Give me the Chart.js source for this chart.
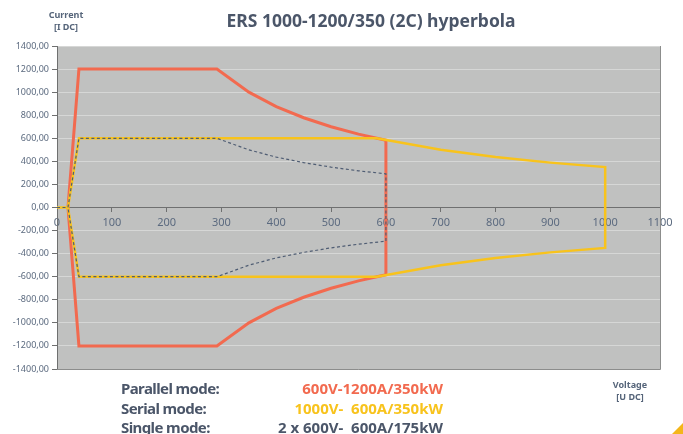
<!DOCTYPE html>
<html>
<head>
<meta charset="utf-8">
<script src="https://cdn.jsdelivr.net/npm/chart.js@4/dist/chart.umd.min.js"></script>
<style>
  html, body { margin: 0; padding: 0; background: #fff; }
  #wrap { position: relative; width: 683px; height: 434px; overflow: hidden; font-family: 'Noto Sans', sans-serif; color: #4b5669; }
  canvas { position: absolute; left: 0; top: 0; }
  .t { position: absolute; white-space: pre; }
  .small { font-size: 9px; font-weight: bold; text-align: center; line-height: 12px; color: #56657a; }
  .mode { font-size: 15px; font-weight: bold; line-height: 19.5px; }
  .corner { position: absolute; right: 0; bottom: 0; width: 0; height: 0;
            border-left: 11px solid transparent; border-bottom: 11px solid #f4b61a; }
</style>
</head>
<body>
<div id="wrap">
  <canvas id="chart" width="683" height="434"></canvas>
  <div class="t small" style="left:46px; top:9px; width:40px;">Current<br>[I DC]</div>
  <div class="t" style="left:0; top:8px; width:742px; text-align:center; font-size:17.5px; font-weight:bold; color:#4b5669;">ERS 1000-1200/350 (2C) hyperbola</div>
  <div class="t small" style="left:605px; top:379px; width:50px;">Voltage<br>[U DC]</div>
  <div class="t mode" style="left:121px; top:379px; letter-spacing:-0.6px;">Parallel mode:<br>Serial mode:<br>Single mode:</div>
  <div class="t mode" style="right:240px; top:379px; text-align:right;"><span style="color:#f26a4f">600V-1200A/350kW</span><br><span style="color:#f8c31c">1000V-  600A/350kW</span><br><span>2 x 600V-  600A/175kW</span></div>
  <div class="corner"></div>
</div>
<script>
// values (Voltage V, Current A)
const parallelV = [20, 40, 291.7, 350, 400, 450, 500, 550, 600, 600, 550, 500, 450, 400, 350, 291.7, 40, 20]
const parallelI = [0, 1200, 1200, 1000, 875, 778, 700, 636, 583, -583, -636, -700, -778, -875, -1000, -1200, -1200, 0]

const serialV = [0, 20, 40, 583, 700, 800, 900, 1000, 1000, 900, 800, 700, 583, 40, 20]
const serialI = [0, 0, 600, 600, 500, 437, 389, 350, -350, -389, -437, -500, -600, -600, 0]

const singleV = [0, 20, 40, 291.7, 350, 400, 450, 500, 550, 600, 600, 550, 500, 450, 400, 350, 291.7, 40, 20]
const singleI = [0, 0, 600, 600, 500, 437, 389, 350, 318, 292, -292, -318, -350, -389, -437, -500, -600, -600, 0]

const xTicks = [0, 100, 200, 300, 400, 500, 600, 700, 800, 900, 1000, 1100]
const yTicks = [-1400, -1200, -1000, -800, -600, -400, -200, 0, 200, 400, 600, 800, 1000, 1200, 1400]

function points(xs, ys) {
    return xs.map((x, i) => ({x: x, y: ys[i]}))
}

const plotBg = {
    id: 'plotBg',
    beforeDraw(chart) {
        const {ctx, chartArea: a} = chart
        ctx.save()
        ctx.fillStyle = '#c0c1c0'
        ctx.fillRect(a.left, a.top, a.right - a.left, a.bottom - a.top)
        ctx.restore()
    },
    afterDatasetsDraw(chart) {
        const {ctx, chartArea: a} = chart
        ctx.save()
        ctx.strokeStyle = '#8c8d8c'
        ctx.lineWidth = 1
        ctx.beginPath()
        ctx.moveTo(a.right + 0.5, a.top)
        ctx.lineTo(a.right + 0.5, a.bottom + 0.5)
        ctx.lineTo(a.left, a.bottom + 0.5)
        ctx.stroke()
        ctx.restore()
    }
}

const ctx = document.getElementById('chart').getContext('2d')
const myChart = new Chart(ctx, {
    type: 'scatter',
    data: {
        datasets: [
            {
                label: 'Parallel mode',
                data: points(parallelV, parallelI),
                showLine: true,
                borderColor: '#f26a4f',
                borderWidth: 3,
                pointRadius: 0,
                order: 3
            },
            {
                label: 'Serial mode',
                data: points(serialV, serialI),
                showLine: true,
                borderColor: '#f8c31c',
                borderWidth: 2.5,
                pointRadius: 0,
                order: 2
            },
            {
                label: 'Single mode',
                data: points(singleV, singleI),
                showLine: true,
                borderColor: '#4f5d73',
                borderWidth: 1.2,
                borderDash: [3, 2.5],
                pointRadius: 0,
                order: 1
            }
        ]
    },
    options: {
        responsive: false,
        animation: false,
        layout: { padding: { left: 0, top: 46, right: 23, bottom: 65 } },
        plugins: { legend: { display: false }, tooltip: { enabled: false } },
        scales: {
            x: {
                type: 'linear',
                position: { y: 0 },
                min: 0,
                max: 1100,
                afterBuildTicks: axis => { axis.ticks = xTicks.map(v => ({value: v})) },
                ticks: {
                    color: '#5b6a7f',
                    font: { family: 'Noto Sans', size: 11 },
                    padding: 5,
                    callback: v => String(v)
                },
                grid: { color: 'rgba(0,0,0,0)', tickColor: '#6f7070', tickLength: 4, drawOnChartArea: false },
                border: { color: '#6f7070', width: 1 }
            },
            y: {
                type: 'linear',
                min: -1400,
                max: 1400,
                afterBuildTicks: axis => { axis.ticks = yTicks.map(v => ({value: v})) },
                afterFit: axis => { axis.width = 57 },
                ticks: {
                    color: '#5b6a7f',
                    font: { family: 'Noto Sans', size: 9 },
                    padding: 3,
                    callback: v => v.toFixed(2).replace('.', ',')
                },
                grid: {
                    color: ctx => ctx.tick && ctx.tick.value === 0 ? 'rgba(0,0,0,0)' : '#d6d7d6',
                    tickColor: '#6f7070',
                    tickLength: 5
                },
                border: { color: '#6f7070', width: 1 }
            }
        }
    },
    plugins: [plotBg]
})
</script>
</body>
</html>
